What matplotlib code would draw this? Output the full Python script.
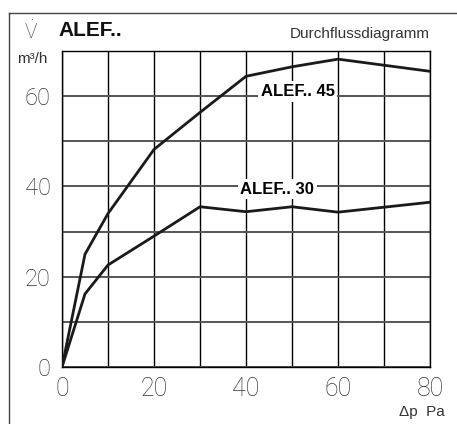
import matplotlib
matplotlib.use("Agg")
import matplotlib.pyplot as plt
from matplotlib.lines import Line2D

# Durchflussdiagramm ALEF.. (Volumenstrom über Druckdifferenz)
dp = [0, 5, 10, 20, 30, 40, 50, 60, 80]
alef45 = [0, 25, 34, 48.2, 56.4, 64.4, 66.5, 68.2, 65.5]
alef30 = [0, 16.2, 22.6, 29, 35.5, 34.4, 35.5, 34.3, 36.5]

x_ticks = [0, 20, 40, 60, 80]
y_ticks = [0, 20, 40, 60]
grid_step = 10

plt.rcParams['font.family'] = ['Roboto', 'DejaVu Sans']
plt.rcParams['mathtext.fontset'] = 'custom'
plt.rcParams['mathtext.rm'] = 'Roboto:light'

fig = plt.figure(figsize=(4.57, 4.24), dpi=100)
ax = fig.add_axes([0.1357, 0.1344, 0.8053, 0.7453])

ax.set_xlim(0, 80)
ax.set_ylim(0, 70)

for xv in range(0, 81, grid_step):
    ax.axvline(xv, color="black", lw=1.0, zorder=1)
for yv in range(0, 71, grid_step):
    ax.axhline(yv, color="#555555", lw=1.4, zorder=1)

ax.plot(dp, alef45, color="#1a1a1a", lw=2.0, zorder=3)
ax.plot(dp, alef30, color="#1a1a1a", lw=2.0, zorder=3)

label_font = ['Liberation Sans Narrow', 'Liberation Sans', 'DejaVu Sans']
ax.text(51.2, 61.1, "ALEF.. 45", family=label_font, fontweight="bold",
        fontsize=12, ha="center", va="center", zorder=4,
        bbox=dict(facecolor="white", edgecolor="none", pad=2))
ax.text(46.8, 39.4, "ALEF.. 30", family=label_font, fontweight="bold",
        fontsize=12, ha="center", va="center", zorder=4,
        bbox=dict(facecolor="white", edgecolor="none", pad=2))

ax.set_xticks(x_ticks)
ax.set_yticks(y_ticks)
ax.set_xticklabels([str(v) for v in x_ticks], fontsize=18, fontweight="light",
                   color="#333333")
ax.set_yticklabels([str(v) for v in y_ticks], fontsize=17, fontweight="light",
                   color="#333333")
ax.tick_params(axis="both", length=0)
ax.tick_params(axis="x", pad=7)
ax.tick_params(axis="y", pad=8)
for s in ax.spines.values():
    s.set_color("black")
    s.set_linewidth(1.0)

# outer frame (left and top)
fig.add_artist(Line2D([9 / 457, 9 / 457], [0, 1 - 13 / 424], color="#444444", lw=1.0))
fig.add_artist(Line2D([9 / 457, 1], [1 - 13 / 424, 1 - 13 / 424], color="#444444", lw=1.0))

fig.text(58 / 457, 1 - 36 / 424, "ALEF..", family=['Liberation Sans', 'DejaVu Sans'],
         fontweight="bold", fontsize=15, color="#111111", ha="left", va="baseline")
fig.text(430 / 457, 1 - 38 / 424, "Durchflussdiagramm", family=['Liberation Sans', 'DejaVu Sans'],
         fontsize=11, color="#333333", ha="right", va="baseline")
fig.text(31 / 457, 1 - 39 / 424, r"$\dot{\mathrm{V}}$", fontsize=15, color="#333333",
         ha="center", va="baseline")
fig.text(32 / 457, 1 - 63 / 424, "m³/h", family=['Liberation Sans', 'DejaVu Sans'],
         fontsize=11, color="#333333", ha="center", va="baseline")
fig.text(445 / 457, 1 - 416 / 424, "Δp  Pa", family=['Liberation Sans', 'DejaVu Sans'],
         fontsize=11, color="#333333", ha="right", va="baseline")

fig.savefig("out.png", dpi=100)
